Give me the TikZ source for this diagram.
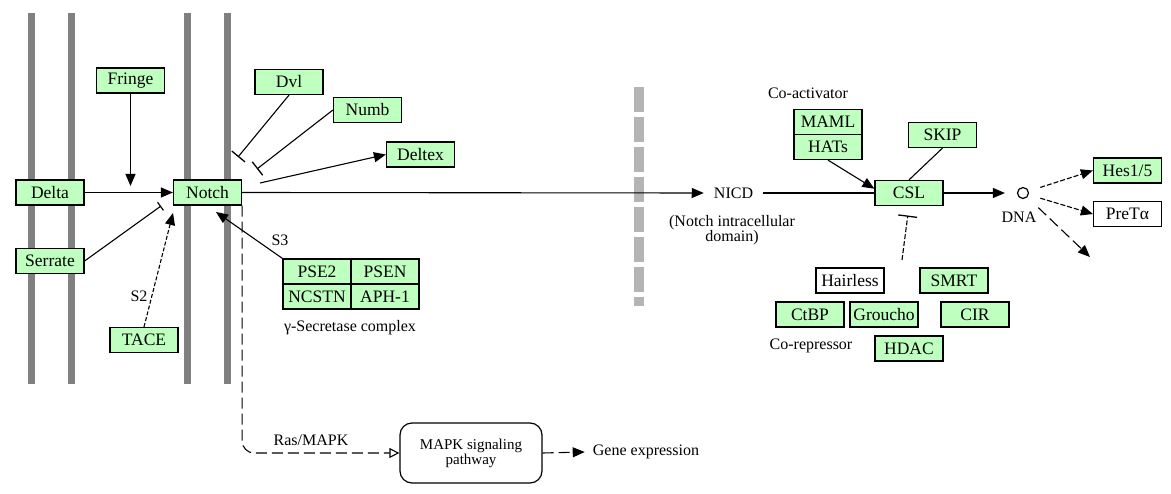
\documentclass[tikz,border=0pt]{standalone}
\usepackage{fontspec}
\setmainfont{Liberation Serif}
\usetikzlibrary{arrows.meta}
\definecolor{kgreen}{HTML}{BFFFBF}
\definecolor{membgray}{HTML}{808080}
\definecolor{dashgray}{HTML}{B4B4B4}
\begin{document}
\begin{tikzpicture}[x=1pt,y=-1pt,
  gene/.style={draw=black, fill=kgreen, line width=1.2pt, minimum width=68pt, minimum height=25pt, inner sep=0pt, font=\fontsize{17.5}{19}\selectfont},
  wgene/.style={gene, fill=white},
  lbl/.style={inner sep=0pt, font=\fontsize{16}{18}\selectfont},
  memb/.style={draw=membgray, line width=7pt},
  conn/.style={line width=1.1pt},
  act/.style={conn, -{Triangle[length=12pt,width=10pt]}},
  inh/.style={conn, -{Bar[width=17pt,line width=1.3pt]}},
  fdash/.style={dash pattern=on 5pt off 2pt},
  ldash/.style={dash pattern=on 11pt off 5pt},
]
\useasboundingbox (0,0) rectangle (1171,494);
% membranes
\draw[memb] (31.5,13) -- (31.5,384);
\draw[memb] (71,13) -- (71,384);
\draw[memb] (187,13) -- (187,384);
\draw[memb] (227,13) -- (227,384);
\draw[draw=dashgray, line width=10pt, dash pattern=on 25pt off 5pt] (638.5,87) -- (638.5,306);

% nodes left
\node[gene] (fringe) at (130.5,80.5) {Fringe};
\node[gene] (delta) at (50,192.5) {Delta};
\node[gene] (notch) at (207.5,192.5) {Notch};
\node[gene] (serrate) at (50,261) {Serrate};
\node[gene] (tace) at (144,340) {TACE};
\node[gene] (dvl) at (289,82) {Dvl};
\node[gene] (numb) at (367.5,110) {Numb};
\node[gene] (deltex) at (420.5,154.5) {Deltex};
\node[gene] (pse2) at (317,271.5) {PSE2};
\node[gene] (psen) at (385,271.5) {PSEN};
\node[gene] (ncstn) at (317,296.5) {NCSTN};
\node[gene] (aph) at (385,296.5) {APH-1};
\node[lbl] (gsec) at (350,328) {γ-Secretase complex};
\node[lbl] (s3) at (280,240) {S3};
\node[lbl] (s2) at (139,296) {S2};
\node[lbl] (ras) at (311,440) {Ras/MAPK};
\node[draw=black, line width=1.2pt, rounded corners=12pt, minimum width=142pt, minimum height=60pt, inner sep=0pt, align=center, font=\fontsize{15}{15}\selectfont] (mapk) at (471,453) {MAPK signaling\\pathway};
\node[lbl, inner xsep=8pt] (gexp) at (646,452) {Gene expression};

% right side
\node[lbl, inner xsep=10pt] (nicd) at (733.5,193) {NICD};
\node[lbl, align=center, font=\fontsize{16}{15}\selectfont] (nicdtxt) at (732,230) {(Notch intracellular\\domain)};
\node[lbl] (coact) at (808,93) {Co-activator};
\node[gene] (maml) at (828,122) {MAML};
\node[gene] (hats) at (828,147) {HATs};
\node[gene] (skip) at (942.5,135) {SKIP};
\node[gene] (csl) at (909,193) {CSL};
\node[draw=black, line width=1.2pt, circle, minimum size=11pt, inner sep=0pt] (dna) at (1023,193) {};
\node[lbl] (dnalbl) at (1019,217) {DNA};
\node[gene] (hes) at (1127.5,170.5) {Hes1/5};
\node[wgene] (pret) at (1127.5,214) {PreTα};
\node[wgene] (hairless) at (850,280.5) {Hairless};
\node[gene] (smrt) at (954,280.5) {SMRT};
\node[gene] (ctbp) at (810,314.5) {CtBP};
\node[gene] (groucho) at (884,314.5) {Groucho};
\node[gene] (cir) at (975,314.5) {CIR};
\node[gene] (hdac) at (909,348.5) {HDAC};
\node[lbl] (corep) at (811,346) {Co-repressor};

% coordinates for free ends
\coordinate (frend) at (130.5,186);
\coordinate (serend) at (161,206);
\coordinate (taceend) at (173,213);
\coordinate (s3end) at (216,212);
\coordinate (dvlend) at (238,157);
\coordinate (numbend) at (257,169);
\coordinate (dxstart) at (260,183);
\coordinate (repstart) at (902,260);
\coordinate (dnaend) at (1090,257);

% connectors left
\draw[act] (fringe.south) -- (frend);
\draw[act] (delta.east) -- (notch.west);
\draw[conn, -{Bar[width=10pt,line width=1.2pt]}] (serrate.east) -- (serend);
\draw[act, dash pattern=on 4pt off 2pt] (tace.north) -- (taceend);
\draw[act] (pse2.north west) -- (s3end);
\draw[inh] (dvl.south) -- (dvlend);
\draw[inh] (numb.west) -- (numbend);
\draw[act] (dxstart) -- (deltex.west);
\draw[act] (notch.east) -- (nicd.west);
\draw[conn, ldash, rounded corners=12pt, -{Triangle[open,length=10pt,width=10pt]}] (notch.south east) |- (mapk.west);
\draw[act, ldash] (mapk.east) -- (gexp.west);

% connectors right
\draw[conn] (nicd.east) -- (csl.west);
\draw[act] (hats.south) -- (csl.173);
\draw[conn] (skip.south) -- (csl.north);
\draw[act, shorten >=12pt] (csl.east) -- (dna.west);
\draw[act, fdash, shorten <=12pt] (dna) -- (hes.west);
\draw[act, fdash, shorten <=12pt] (dna) -- (pret.west);
\draw[act, ldash, shorten <=15pt] (dna) -- (dnaend);
\draw[inh, fdash, shorten >=9.5pt, -{Bar[width=19pt,line width=1.3pt]}] (repstart) -- (csl.south);
\end{tikzpicture}
\end{document}
